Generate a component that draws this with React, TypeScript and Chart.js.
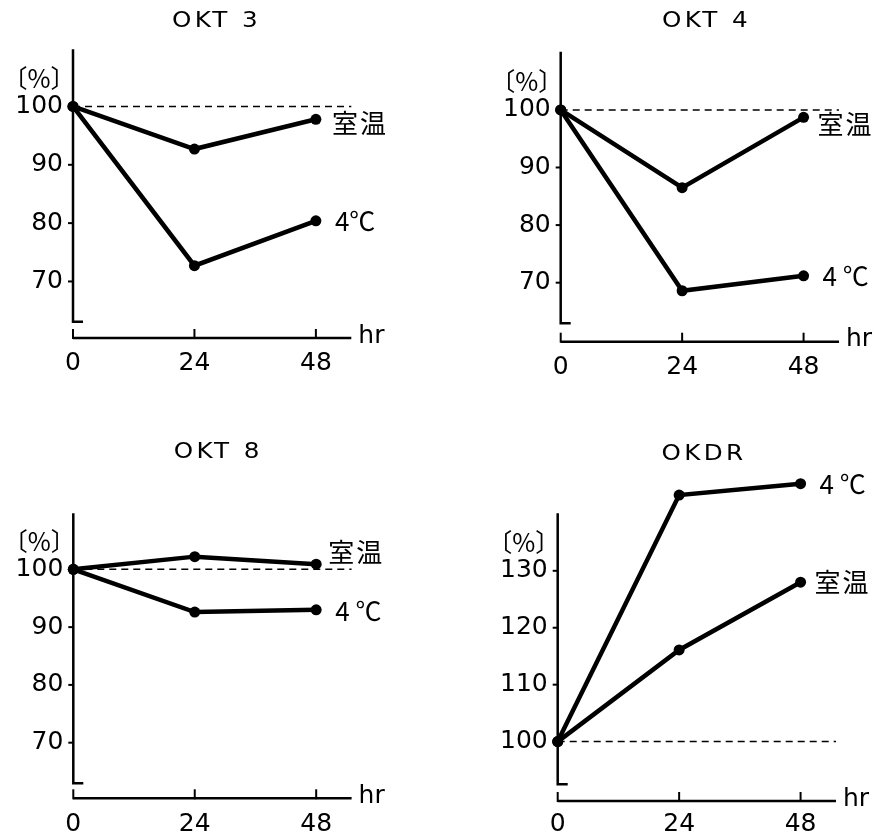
import React, { useEffect, useRef } from 'react';
import { Chart, registerables } from 'chart.js';

Chart.register(...registerables);

// ---- data ----
const hours = [0, 24, 48];
const okt3RoomTemp = [100, 92.7, 97.8];
const okt3Cold = [100, 72.7, 80.4];
const okt4RoomTemp = [100, 86.5, 98.7];
const okt4Cold = [100, 68.6, 71.2];
const okt8RoomTemp = [100, 102.2, 100.9];
const okt8Cold = [100, 92.6, 93.0];
const okdrRoomTemp = [100, 116.1, 128.0];
const okdrCold = [100, 143.3, 145.3];
const xTickValues = [0, 24, 48];
const yTicksLow = [70, 80, 90, 100];
const yTicksHigh = [100, 110, 120, 130];
const panelTitles = ['OKT 3', 'OKT 4', 'OKT 8', 'OKDR'];
const roomLabel = '室温';
const coldLabels = ['4℃', '4 ℃', '4 ℃', '4 ℃'];
const baselineValue = 100;
const xAxisEnd = 55;
const unitLabel = '〔%〕';
const hourLabel = 'hr';

const CW = 438;
const CH = 417;
const Y_W = 70;
const X_H = 60;
const PX_PER_HR = 5.06;

type Panel = {
  title: string;
  room: number[];
  cold: number[];
  coldLabel: string;
  yTicks: number[];
  yMin: number;
  axisTopValue: number;
  yMax: number;
  left: number;
  top: number;
  axisX: number;
  axisTopPx: number;
  plotBottom: number;
  gap: number;
  xPad: number;
  titleX: number;
  titleY: number;
  roomDx: number;
  roomDy: number;
  coldDx: number;
  coldDy: number;
};

const panels: Panel[] = [
  { title: panelTitles[0], room: okt3RoomTemp, cold: okt3Cold, coldLabel: coldLabels[0], yTicks: yTicksLow, yMin: 63.1, axisTopValue: 109.8, yMax: 109.8,
    left: 0, top: 0, axisX: 73, axisTopPx: 49.3, plotBottom: 321.7, gap: 16.3, xPad: 27, titleX: 215, titleY: 21,
    roomDx: 16, roomDy: 4, coldDx: 19, coldDy: 0 },
  { title: panelTitles[1], room: okt4RoomTemp, cold: okt4Cold, coldLabel: coldLabels[1], yTicks: yTicksLow, yMin: 62.95, axisTopValue: 110.1, yMax: 110.1,
    left: 438, top: 0, axisX: 122.7, axisTopPx: 51.7, plotBottom: 323.3, gap: 18.4, xPad: 29, titleX: 267, titleY: 21,
    roomDx: 14, roomDy: 7, coldDx: 19, coldDy: 0 },
  { title: panelTitles[2], room: okt8RoomTemp, cold: okt8Cold, coldLabel: coldLabels[2], yTicks: yTicksLow, yMin: 62.97, axisTopValue: 109.7, yMax: 109.7,
    left: 0, top: 418, axisX: 73.3, axisTopPx: 95.3, plotBottom: 365.3, gap: 15, xPad: 26, titleX: 216.7, titleY: 34,
    roomDx: 12, roomDy: -12, coldDx: 19, coldDy: 1 },
  { title: panelTitles[3], room: okdrRoomTemp, cold: okdrCold, coldLabel: coldLabels[3], yTicks: yTicksHigh, yMin: 92.5, axisTopValue: 140.1, yMax: 148,
    left: 438, top: 418, axisX: 119.7, axisTopPx: 95.3, plotBottom: 366.3, gap: 16.7, xPad: 25, titleX: 264.5, titleY: 36.5,
    roomDx: 14, roomDy: 0, coldDx: 19, coldDy: 0 },
];

const NUM_FONT = '"DejaVu Sans", "Noto Sans CJK JP", sans-serif';
const CJK_FONT = '"Noto Sans CJK JP", "DejaVu Sans", sans-serif';

function PanelChart({ p }: { p: Panel }) {
  const ref = useRef<HTMLCanvasElement | null>(null);
  useEffect(() => {
    const canvas = ref.current;
    if (!canvas) return;
    const pxPerUnit = (p.plotBottom - p.axisTopPx) / (p.axisTopValue - p.yMin);
    const plotTop = p.plotBottom - (p.yMax - p.yMin) * pxPerUnit;

    const decor = {
      id: 'decor' + p.title.replace(/\s/g, ''),
      afterDraw(chart: any) {
        const { ctx, chartArea } = chart;
        const xs = chart.scales.x;
        const ys = chart.scales.y;
        const ax = xs.getPixelForValue(0);
        const axTop = ys.getPixelForValue(p.axisTopValue);
        ctx.save();
        ctx.strokeStyle = '#000';
        ctx.fillStyle = '#000';
        ctx.lineWidth = 2.5;
        ctx.lineCap = 'butt';
        // y axis
        ctx.beginPath();
        ctx.moveTo(ax, axTop);
        ctx.lineTo(ax, chartArea.bottom);
        ctx.lineTo(ax + 10, chartArea.bottom);
        ctx.stroke();
        // y ticks
        ctx.lineWidth = 2;
        p.yTicks.forEach((v) => {
          const py = ys.getPixelForValue(v);
          ctx.beginPath();
          ctx.moveTo(ax - 5, py);
          ctx.lineTo(ax, py);
          ctx.stroke();
        });
        // x axis
        const yA = chartArea.bottom + p.gap;
        ctx.lineWidth = 2.5;
        ctx.beginPath();
        ctx.moveTo(ax, yA);
        ctx.lineTo(chartArea.right, yA);
        ctx.stroke();
        ctx.lineWidth = 2;
        xTickValues.forEach((v) => {
          const px = xs.getPixelForValue(v);
          ctx.beginPath();
          ctx.moveTo(px, yA + 1);
          ctx.lineTo(px, yA - 9);
          ctx.stroke();
        });
        // hr
        ctx.font = '25px ' + NUM_FONT;
        ctx.textAlign = 'left';
        ctx.textBaseline = 'middle';
        ctx.fillText(hourLabel, chartArea.right + 7, yA - 2);
        // unit
        ctx.font = '25px ' + CJK_FONT;
        ctx.textAlign = 'center';
        const topTick = p.yTicks[p.yTicks.length - 1];
        ctx.fillText(unitLabel, ax - 34, ys.getPixelForValue(topTick) - 28);
        // series labels
        const lastIdx = hours.length - 1;
        const px48 = xs.getPixelForValue(hours[lastIdx]);
        ctx.font = '26px ' + CJK_FONT;
        ctx.textAlign = 'left';
        (ctx as any).letterSpacing = '2px';
        ctx.fillText(roomLabel, px48 + p.roomDx, ys.getPixelForValue(p.room[lastIdx]) + p.roomDy);
        (ctx as any).letterSpacing = '0px';
        ctx.font = '26px ' + CJK_FONT;
        ctx.fillText(p.coldLabel, px48 + p.coldDx, ys.getPixelForValue(p.cold[lastIdx]) + p.coldDy);
        // title
        ctx.font = '22px ' + NUM_FONT;
        ctx.textAlign = 'center';
        (ctx as any).letterSpacing = '3px';
        ctx.save();
        ctx.translate(p.titleX + 1.5, p.titleY);
        ctx.scale(1.12, 1);
        ctx.fillText(p.title, 0, 0);
        ctx.restore();
        (ctx as any).letterSpacing = '0px';
        ctx.restore();
      },
    };

    const rightPad = CW - (p.axisX + xAxisEnd * PX_PER_HR);
    const lineStyle = {
      borderColor: '#000',
      backgroundColor: '#000',
      borderWidth: 4.5,
      pointRadius: 5.5,
      pointBackgroundColor: '#000',
      pointBorderWidth: 0,
      clip: false,
    };
    const chart = new Chart(canvas, {
      type: 'line',
      data: {
        datasets: [
          {
            label: 'baseline',
            data: [{ x: 0, y: baselineValue }, { x: xAxisEnd, y: baselineValue }],
            borderColor: '#000',
            borderWidth: 1.5,
            borderDash: [7, 5],
            pointRadius: 0,
            order: 3,
            clip: false,
          } as any,
          {
            label: roomLabel,
            data: hours.map((h, i) => ({ x: h, y: p.room[i] })),
            order: 1,
            ...lineStyle,
          },
          {
            label: p.coldLabel,
            data: hours.map((h, i) => ({ x: h, y: p.cold[i] })),
            order: 2,
            ...lineStyle,
          },
        ],
      },
      options: {
        animation: false,
        responsive: false,
        maintainAspectRatio: false,
        layout: {
          padding: {
            left: p.axisX - Y_W,
            right: rightPad,
            top: plotTop,
            bottom: CH - p.plotBottom - X_H,
          },
        },
        plugins: { legend: { display: false }, tooltip: { enabled: false }, title: { display: false } },
        scales: {
          x: {
            type: 'linear',
            min: 0,
            max: xAxisEnd,
            grid: { display: false, drawTicks: false },
            border: { display: false },
            afterBuildTicks: (s: any) => { s.ticks = xTickValues.map((v) => ({ value: v })); },
            afterFit: (s: any) => { s.height = X_H; },
            ticks: {
              color: '#000',
              font: { family: NUM_FONT, size: 25 },
              padding: p.xPad,
              maxRotation: 0,
              autoSkip: false,
              callback: (v: any) => String(v),
            },
          },
          y: {
            type: 'linear',
            min: p.yMin,
            max: p.yMax,
            grid: { display: false, drawTicks: false },
            border: { display: false },
            afterBuildTicks: (s: any) => { s.ticks = p.yTicks.map((v) => ({ value: v })); },
            afterFit: (s: any) => { s.width = Y_W; },
            ticks: {
              color: '#000',
              font: { family: NUM_FONT, size: 25 },
              padding: 10,
              autoSkip: false,
              callback: (v: any) => String(v),
            },
          },
        },
      },
      plugins: [decor],
    });
    return () => chart.destroy();
  }, [p]);
  return (
    <canvas
      ref={ref}
      width={CW}
      height={CH}
      style={{ position: 'absolute', left: p.left, top: p.top, width: CW, height: CH }}
    />
  );
}

export default function App() {
  return (
    <div style={{ position: 'absolute', left: 0, top: 0, width: 876, height: 835, background: '#fff' }}>
      {panels.map((p) => (
        <PanelChart key={p.title} p={p} />
      ))}
    </div>
  );
}
